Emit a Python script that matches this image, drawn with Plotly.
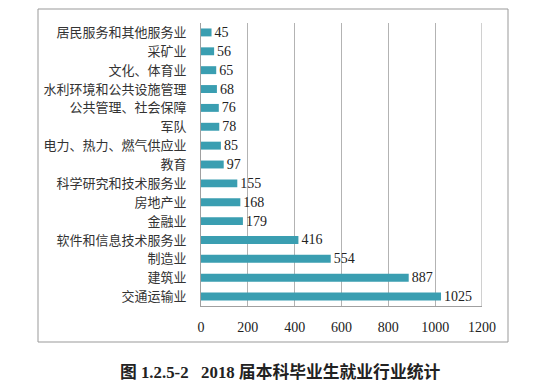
import plotly.graph_objects as go

categories = ["居民服务和其他服务业", "采矿业", "文化、体育业", "水利环境和公共设施管理",
              "公共管理、社会保障", "军队", "电力、热力、燃气供应业", "教育",
              "科学研究和技术服务业", "房地产业", "金融业", "软件和信息技术服务业",
              "制造业", "建筑业", "交通运输业"]
values = [45, 56, 65, 68, 76, 78, 85, 97, 155, 168, 179, 416, 554, 887, 1025]
x_ticks = [0, 200, 400, 600, 800, 1000, 1200]
caption = "图 1.2.5-2   2018 届本科毕业生就业行业统计"

serif = "Liberation Serif, Noto Sans CJK SC, serif"

# page is offset by the browser's 8px body margin
OFF = 8
W, H = 541 - OFF, 390 - OFF
PL, PR, PT, PB = 201 - OFF, 482 - OFF, 23 - OFF, 306 - OFF  # plot area in figure px
pw, ph = PR - PL, PB - PT


def px_x(x):
    return (x - OFF - PL) / pw


def px_y(y):
    return (PB - (y - OFF)) / ph


fig = go.Figure(go.Bar(
    x=values, y=categories, orientation="h",
    marker=dict(color="#3a9eb1", line=dict(width=0)),
    width=0.42,
    text=[str(v) for v in values], textposition="outside",
    constraintext="none",
    textfont=dict(family=serif, size=14, color="#222"),
    cliponaxis=False,
))

fig.update_layout(
    width=W, height=H,
    margin=dict(l=PL, r=W - PR, t=PT, b=H - PB),
    paper_bgcolor="white", plot_bgcolor="white",
    showlegend=False,
    xaxis=dict(range=[0, 1200], tickvals=x_ticks, ticktext=[str(t) for t in x_ticks],
               showgrid=True, gridcolor="#b3b3b3", gridwidth=1,
               showline=True, linecolor="#a0a0a0", linewidth=1, mirror=False,
               zeroline=False, ticks="", ticklabelstandoff=8,
               tickfont=dict(family=serif, size=14, color="#222"), fixedrange=True),
    yaxis=dict(autorange="reversed", showgrid=False, showline=True, linecolor="#a0a0a0",
               linewidth=1, ticks="", ticklabelstandoff=11,
               tickfont=dict(family="Noto Sans CJK SC, sans-serif", size=13, color="#333"),
               fixedrange=True),
    shapes=[
        dict(type="rect", xref="paper", yref="paper",
             x0=px_x(38), x1=px_x(508), y0=px_y(342), y1=px_y(9),
             line=dict(color="#999999", width=1), fillcolor="rgba(0,0,0,0)", layer="below"),
        dict(type="line", xref="x", yref="paper", x0=1200, x1=1200, y0=0, y1=1,
             line=dict(color="#a0a0a0", width=1)),
    ],
    annotations=[
        dict(text="<b>" + caption + "</b>", xref="paper", yref="paper",
             x=px_x(118), y=px_y(372), xanchor="left", yanchor="middle",
             showarrow=False, font=dict(family=serif, size=16.8, color="#222")),
    ],
)

fig.write_html("out.html")
